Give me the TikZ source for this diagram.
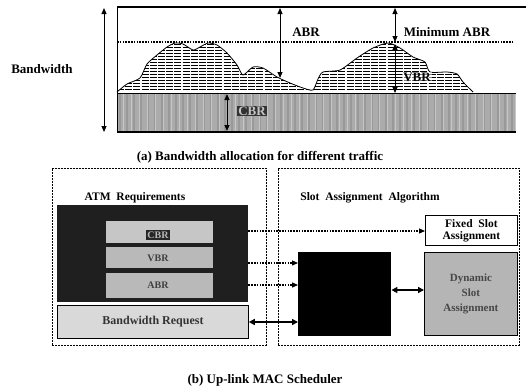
\documentclass[tikz,border=0pt]{standalone}
\usepackage{fontspec}
\setmainfont{Liberation Serif}
\usetikzlibrary{arrows.meta}
\begin{document}
\begin{tikzpicture}[x=1pt,y=-1pt, font=\bfseries,
  darr/.style={{Triangle[length=6pt,width=5pt]}-{Triangle[length=6pt,width=5pt]}},
  dashbox/.style={draw, dash pattern=on 2pt off 1pt, line width=0.6pt, inner sep=0pt, anchor=north west},
  dots/.style={dash pattern=on 1.6pt off 1.2pt, line width=1.4pt},
  lbl/.style={font=\fontsize{13}{15}\selectfont\bfseries, inner sep=1pt},
  blk/.style={inner sep=0pt, anchor=north west},
]
\useasboundingbox (0,0) rectangle (526,389);

% ---------- (a) ----------
\def\hillpts{(117,92) (127,84) (140,78) (147,64) (157,55) (167,47) (175,43) (183,44) (193,50) (200,47) (208,43) (217,45) (227,53) (237,65) (243,75) (253,67) (263,68) (277,77) (290,83) (303,88) (313,90) (318,79) (323,72) (340,70) (357,58) (373,48) (388,43) (400,48) (413,57) (425,62) (430,72) (447,72) (457,74) (463,82) (473,92)}
\fill[gray!66] (117,93) rectangle (516,132);
\begin{scope}
\clip (117,93) rectangle (516,132);
\foreach \x in {120,127,...,516} \draw[gray!80, line width=1.2pt] (\x,93) -- (\x,132);
\foreach \x in {123,131,...,516} \draw[gray!45, line width=0.7pt] (\x,93) -- (\x,132);
\end{scope}
\draw[line width=0.8pt] (117,93) -- (516,93);
\fill[white] plot[smooth, tension=0.4] coordinates {\hillpts} -- cycle;
\begin{scope}
\clip plot[smooth, tension=0.4] coordinates {\hillpts} -- cycle;
\foreach \y in {44.5,47.5,...,92} \draw[line width=0.9pt, dash pattern=on 7pt off 1.2pt] (117,\y) -- (480,\y);
\end{scope}
\draw[line width=0.8pt] plot[smooth, tension=0.4] coordinates {\hillpts};
\draw[line width=1.6pt] (117,7) -- (526,7);
\draw[line width=0.6pt] (117,7) -- (117,132);
\draw[line width=1.6pt] (117,132) -- (516,132);
\draw[dots] (117,42) -- (513,42);

\node[lbl] (bw) at (42,69) {Bandwidth};
\coordinate (bwt) at (104,8);
\coordinate (bwb) at (104,132);
\draw[darr, line width=1pt] (bwt) -- (bwb);

\coordinate (abrt) at (280,8);
\coordinate (abrb) at (280,78);
\draw[darr, line width=1pt] (abrt) -- (abrb);
\node[lbl] (abr) at (306,32) {ABR};

\coordinate (mint) at (395,8);
\coordinate (minb) at (395,42);
\draw[darr, line width=1pt] (mint) -- (minb);
\node[lbl] (minabr) at (447,32) {Minimum ABR};

\coordinate (vbrt) at (395,44);
\coordinate (vbrb) at (395,93);
\draw[darr, line width=1pt] (vbrt) -- (vbrb);
\node[lbl, fill=white, fill opacity=0.5, text opacity=1] (vbr) at (417,77) {VBR};

\coordinate (cbrt) at (227,94);
\coordinate (cbrb) at (227,131);
\draw[darr, line width=1pt] (cbrt) -- (cbrb);
\node[lbl, fill=black!80, text=gray!45] (cbr) at (252,111) {CBR};

\node[lbl] (capa) at (260,157) {(a) Bandwidth allocation for different traffic};

% ---------- (b) ----------
\node[dashbox, minimum width=214pt, minimum height=177pt] (left) at (52,168) {};
\node[dashbox, minimum width=241pt, minimum height=177pt] (right) at (278,168) {};
\node[font=\fontsize{11.5}{13}\selectfont\bfseries] (atmt) at (135,198) {ATM~ Requirements};
\node[font=\fontsize{11.5}{13}\selectfont\bfseries] (slott) at (370,198) {Slot~ Assignment~ Algorithm};

\node[blk, fill=black!88, minimum width=191pt, minimum height=97pt] (atm) at (57,205) {};
\node[blk, fill=gray!45, minimum width=107pt, minimum height=22pt] (r1) at (106,221) {};
\node[blk, fill=gray!55, minimum width=107pt, minimum height=21pt] (r2) at (106,247) {};
\node[blk, fill=gray!55, minimum width=107pt, minimum height=25pt] (r3) at (106,273) {};
\node[font=\fontsize{10}{12}\selectfont\bfseries, fill=black!85, text=gray!55, inner sep=1.5pt] (cbrr) at (158,235) {CBR};
\node[font=\fontsize{10}{12}\selectfont\bfseries, text=black!75, inner sep=1pt] (vbrr) at (158,258) {VBR};
\node[font=\fontsize{10}{12}\selectfont\bfseries, text=black!75, inner sep=1pt] (abrr) at (158,285) {ABR};

\node[blk, draw=black, line width=0.8pt, fill=gray!30, minimum width=191pt, minimum height=33pt] (req) at (57,305) {};
\node[font=\fontsize{12}{14}\selectfont\bfseries, text=black!80] (reqt) at (153,322) {Bandwidth Request};

\node[blk, fill=black, minimum width=93pt, minimum height=84pt] (alg) at (298,252) {};
\node[blk, draw=black, line width=0.8pt, fill=white, minimum width=92pt, minimum height=30pt] (fixed) at (425,215) {};
\node[font=\fontsize{11.5}{13}\selectfont\bfseries, align=center] (fixedt) at (fixed.center) {Fixed~ Slot\\[-1pt]Assignment};
\node[blk, draw=black, line width=0.8pt, fill=gray!58, minimum width=93pt, minimum height=83pt] (dyn) at (424,252) {};
\node[font=\fontsize{11}{15}\selectfont\bfseries, align=center, text=black!72] (dynt) at (dyn.center) {Dynamic\\Slot\\Assignment};

\coordinate (p1) at (0,231);
\coordinate (p2) at (0,263);
\coordinate (p3) at (0,285);
\coordinate (p4) at (0,322);
\coordinate (p5) at (0,290);
\draw[dots, line width=1.1pt, -{Triangle[length=6pt,width=5pt]}] (atm.east |- p1) -- (fixed.west |- p1);
\draw[dots, line width=1.1pt, -{Triangle[length=6pt,width=5pt]}] (atm.east |- p2) -- (alg.west |- p2);
\draw[dots, line width=1.1pt, -{Triangle[length=6pt,width=5pt]}] (atm.east |- p3) -- (alg.west |- p3);
\draw[line width=1.5pt, {Triangle[length=6pt,width=6pt]}-{Triangle[length=6pt,width=6pt]}] (req.east |- p4) -- (alg.west |- p4);
\draw[line width=1.5pt, {Triangle[length=6pt,width=6pt]}-{Triangle[length=6pt,width=6pt]}] (alg.east |- p5) -- (dyn.west |- p5);

\node[lbl] (capb) at (265,380) {(b) Up-link MAC Scheduler};
\end{tikzpicture}
\end{document}
